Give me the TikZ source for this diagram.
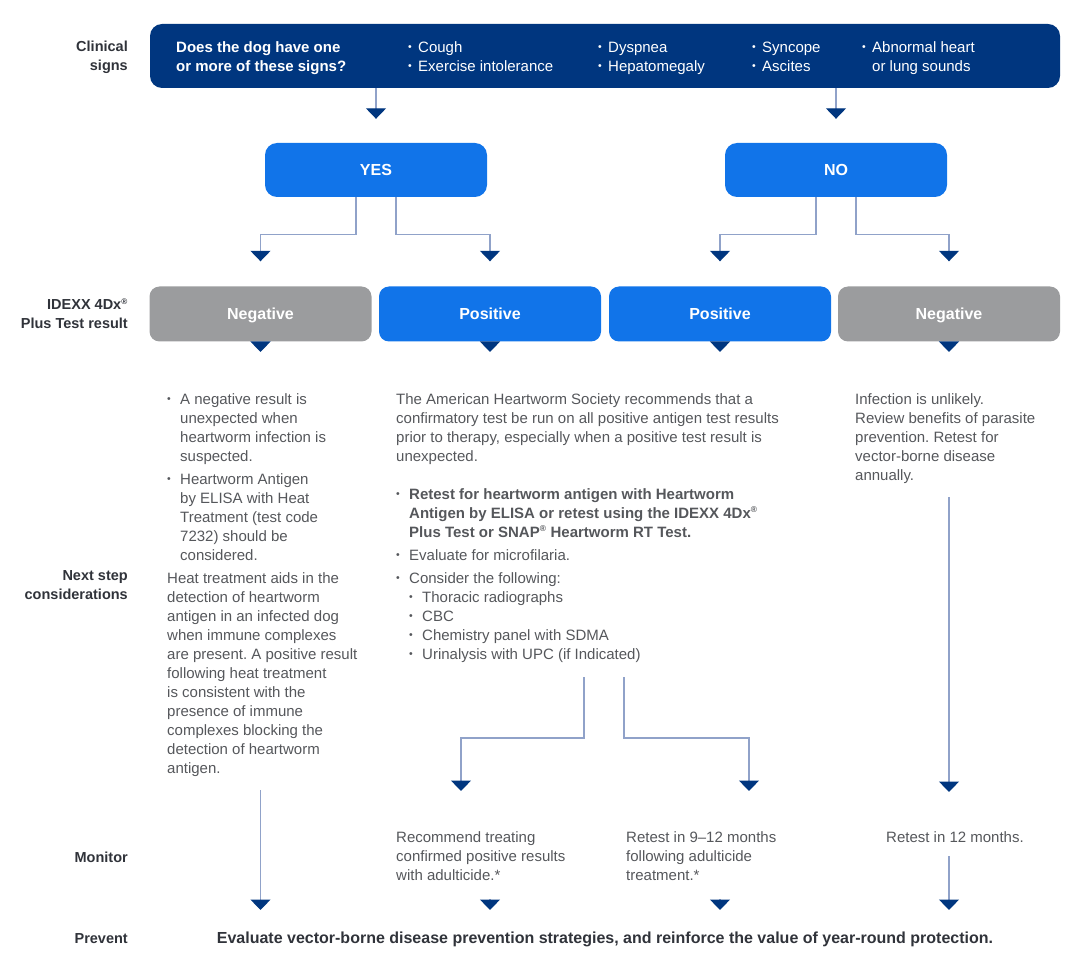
\documentclass[tikz,border=0pt]{standalone}
\usepackage{fontspec}
\setmainfont{Liberation Sans}
\usepackage{xcolor}
\usetikzlibrary{arrows.meta}
\definecolor{idexxnavy}{HTML}{00367F}
\definecolor{brightblue}{HTML}{1174E9}
\definecolor{boxgray}{HTML}{9B9C9E}
\definecolor{linkgray}{HTML}{90A2C9}
\definecolor{textgray}{HTML}{55575B}
\definecolor{labelgray}{HTML}{30333A}
\newcommand\bul[1][13pt]{\makebox[#1][l]{\raisebox{0.2ex}{\scalebox{0.7}{•}}}}
\newcommand\ind[1][13pt]{\hspace*{#1}}
\newcommand\regmark{\textsuperscript{\scalebox{0.8}{®}}}
\frenchspacing

\begin{document}
\begin{tikzpicture}[x=1pt, y=-1pt, >=stealth,
  every node/.style={font=\fontsize{15}{19}\selectfont, inner sep=0pt},
  darkbox/.style={fill=idexxnavy, rounded corners=12pt, minimum width=910pt, minimum height=64pt},
  signtext/.style={anchor=north west, align=left, text=white},
  choice/.style={fill=brightblue, rounded corners=12pt, minimum width=222pt, minimum height=54pt,
    text height=11.5pt, text depth=0pt, text=white, font=\fontsize{16}{19}\selectfont\bfseries},
  result/.style={rounded corners=10pt, minimum width=222pt, minimum height=55pt,
    text height=11.5pt, text depth=0pt, text=white, font=\fontsize{16}{19}\selectfont\bfseries},
  rowlabel/.style={anchor=east, align=right, text=labelgray, font=\fontsize{14.5}{19}\selectfont\bfseries},
  note/.style={anchor=north west, align=left, text=textgray},
  link/.style={draw=linkgray, line width=1.2pt,
    -{Triangle[width=20pt, length=10.5pt, fill=idexxnavy, color=idexxnavy]}}]
  \useasboundingbox (0,0) rectangle (1080,968);

  % row labels
  \node[rowlabel] (lclinical) at (128,57) {Clinical\\signs};
  \node[rowlabel] (lresult) at (128,314) {IDEXX 4Dx\regmark\\Plus Test result};
  \node[rowlabel] (lnext) at (128,585) {Next step\\considerations};
  \node[rowlabel] (lmonitor) at (128,857) {Monitor};
  \node[rowlabel] (lprevent) at (128,939) {Prevent};

  % clinical signs
  \node[darkbox] (signs) at (605,56) {};
  \node[signtext, font=\fontsize{15}{19}\selectfont\bfseries] (question) at (176,41.5)
    {Does the dog have one\\or more of these signs?};
  \node[signtext] (signsA) at (408,41.5) {\bul[10pt]Cough\\\bul[10pt]Exercise intolerance};
  \node[signtext] (signsB) at (598,41.5) {\bul[10pt]Dyspnea\\\bul[10pt]Hepatomegaly};
  \node[signtext] (signsC) at (752,41.5) {\bul[10pt]Syncope\\\bul[10pt]Ascites};
  \node[signtext] (signsD) at (862,41.5) {\bul[10pt]Abnormal heart\\\ind[10pt]or lung sounds};

  \node[choice] (yes) at (376,170) {YES};
  \node[choice] (no) at (836,170) {NO};

  % test results
  \node[result, fill=boxgray] (neg1) at (260.5,314) {Negative};
  \node[result, fill=brightblue] (pos1) at (490,314) {Positive};
  \node[result, fill=brightblue] (pos2) at (720,314) {Positive};
  \node[result, fill=boxgray] (neg2) at (949,314) {Negative};

  % next steps
  \node[note] (leftnote) at (167,393) {%
    \bul A negative result is\\
    \ind unexpected when\\
    \ind heartworm infection is\\
    \ind suspected.\\[4pt]
    \bul Heartworm Antigen\\
    \ind by ELISA with Heat\\
    \ind Treatment (test code\\
    \ind 7232) should be\\
    \ind considered.\\[4pt]
    Heat treatment aids in the\\
    detection of heartworm\\
    antigen in an infected dog\\
    when immune complexes\\
    are present. A positive result\\
    following heat treatment\\
    is consistent with the\\
    presence of immune\\
    complexes blocking the\\
    detection of heartworm\\
    antigen.};
  \node[note] (midnote) at (396,393) {%
    The American Heartworm Society recommends that a\\
    confirmatory test be run on all positive antigen test results\\
    prior to therapy, especially when a positive test result is\\
    unexpected.\\[19pt]
    \bul\textbf{Retest for heartworm antigen with Heartworm}\\
    \ind\textbf{Antigen by ELISA or retest using the IDEXX 4Dx\regmark}\\
    \ind\textbf{Plus Test or SNAP\regmark\ Heartworm RT Test.}\\[4pt]
    \bul Evaluate for microfilaria.\\[4pt]
    \bul Consider the following:\\
    \ind\bul Thoracic radiographs\\
    \ind\bul CBC\\
    \ind\bul Chemistry panel with SDMA\\
    \ind\bul Urinalysis with UPC (if Indicated)};
  \node[note] (rightnote) at (855,393) {%
    Infection is unlikely.\\
    Review benefits of parasite\\
    prevention. Retest for\\
    vector-borne disease\\
    annually.};

  % monitor
  \node[note] (mon1) at (396,831) {Recommend treating\\confirmed positive results\\with adulticide.*};
  \node[note] (mon2) at (626,831) {Retest in 9--12 months\\following adulticide\\treatment.*};
  \node[note] (mon3) at (886,831) {Retest in 12 months.};

  % prevent
  \node[text=labelgray, font=\fontsize{16}{19}\selectfont\bfseries] (prevent) at (605,939.5)
    {Evaluate vector-borne disease prevention strategies, and reinforce the value of year-round protection.};

  \coordinate (forkL) at (584,677);
  \coordinate (forkR) at (624,677);
  \coordinate (tipA) at (461,791);
  \coordinate (tipB) at (749,791);
  \coordinate (tipC) at (949,792);
  \coordinate (end1) at (260.5,910);
  \coordinate (end2) at (490,910);
  \coordinate (end3) at (720,910);
  \coordinate (end4) at (949,910);

  % connectors
  \draw[link, shorten >=24pt] (signs.south -| yes) -- (yes.north);
  \draw[link, shorten >=24pt] (signs.south -| no) -- (no.north);
  \draw[link, shorten >=25pt] ([xshift=-20pt]yes.south) -- ++(0,37) -| (neg1.north);
  \draw[link, shorten >=25pt] ([xshift=20pt]yes.south) -- ++(0,37) -| (pos1.north);
  \draw[link, shorten >=25pt] ([xshift=-20pt]no.south) -- ++(0,37) -| (pos2.north);
  \draw[link, shorten >=25pt] ([xshift=20pt]no.south) -- ++(0,37) -| (neg2.north);
  \draw[link, shorten >=41pt] (neg1.south) -- (neg1.south |- leftnote.north);
  \draw[link, shorten >=41pt] (pos1.south) -- (pos1.south |- midnote.north);
  \draw[link, shorten >=41pt] (pos2.south) -- (pos2.south |- midnote.north);
  \draw[link, shorten >=41pt] (neg2.south) -- (neg2.south |- rightnote.north);
  \draw[link, shorten <=14pt] (end1 |- leftnote.south) -- (end1);
  \draw[link] (forkL) -- ++(0,61) -| (tipA);
  \draw[link] (forkR) -- ++(0,61) -| (tipB);
  \draw[link, shorten <=14pt] (tipC |- rightnote.south) -- (tipC);
  \draw[link] ([yshift=11pt]end2) -- (end2);
  \draw[link] ([yshift=11pt]end3) -- (end3);
  \draw[link, shorten <=14pt] (end4 |- mon3.south) -- (end4);
\end{tikzpicture}
\end{document}
